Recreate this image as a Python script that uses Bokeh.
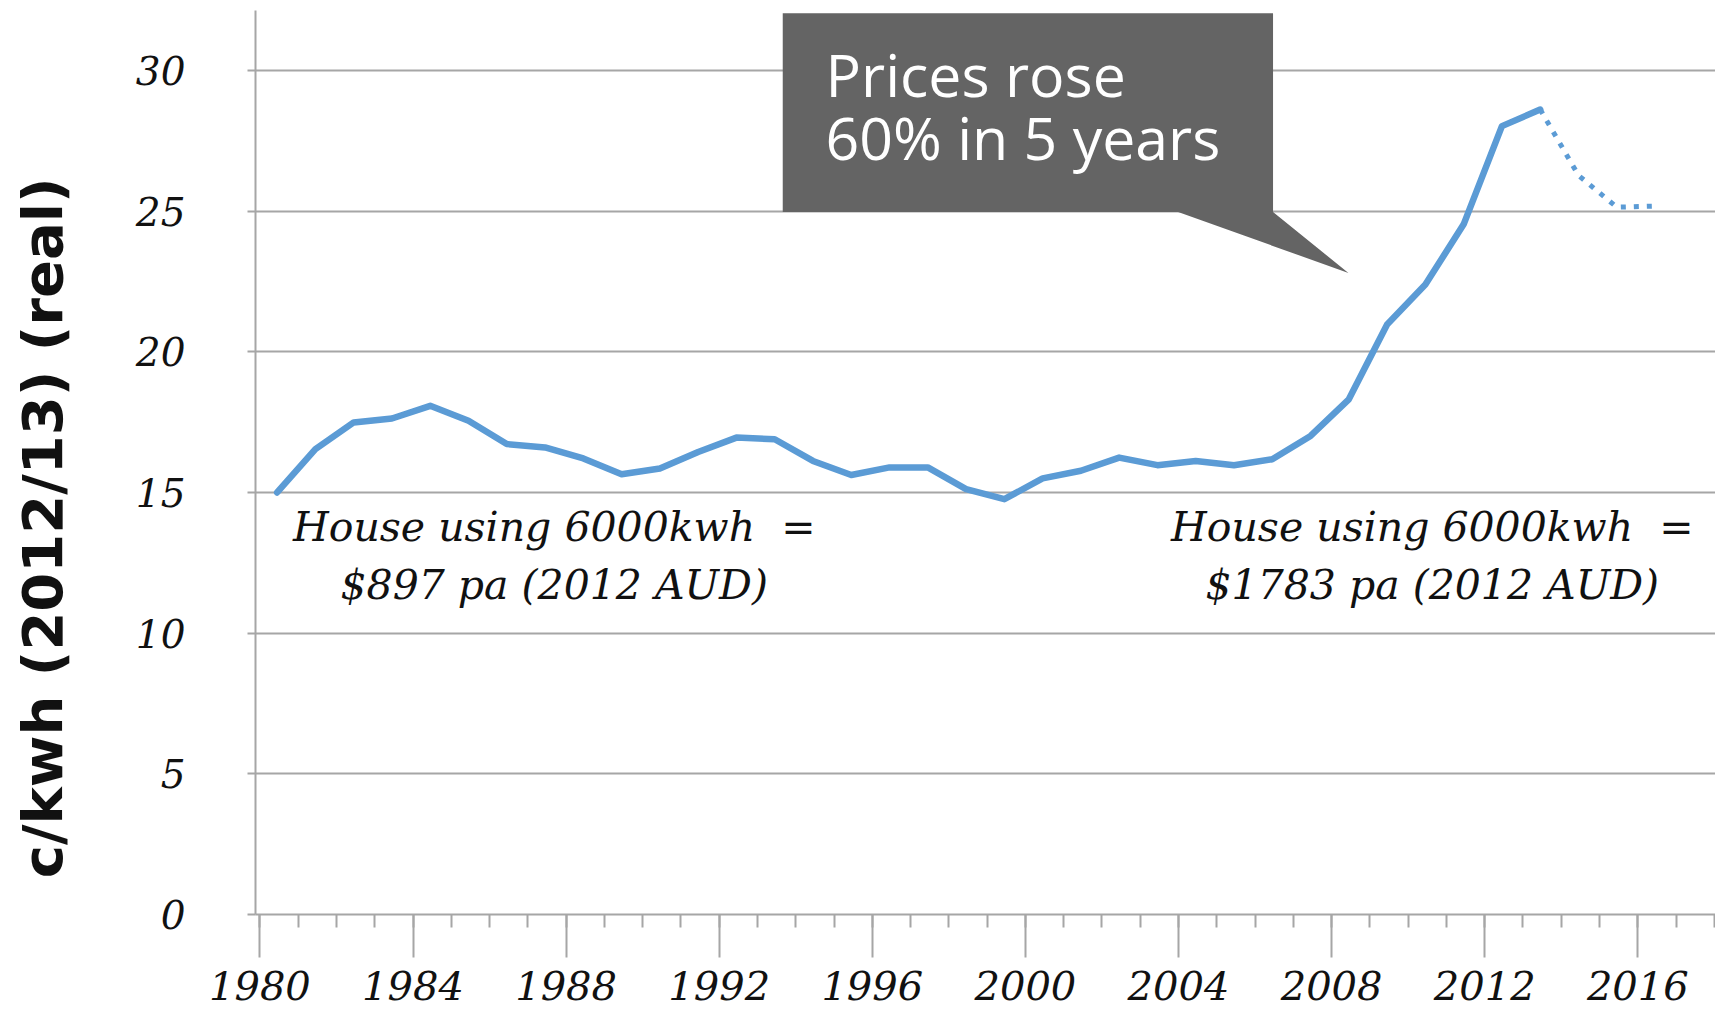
import math
from bokeh.plotting import figure
from bokeh.layouts import row
from bokeh.models import Range1d, SingleIntervalTicker, FixedTicker, Label
from bokeh.embed import file_html
from bokeh.resources import INLINE

# ---- data (financial years, start year) ----
actual_years = list(range(1980, 2014))
actual_price = [15.0, 16.54, 17.49, 17.63, 18.08, 17.55, 16.72, 16.6, 16.21, 15.65,
                15.85, 16.44, 16.95, 16.89, 16.12, 15.62, 15.89, 15.89, 15.12, 14.76,
                15.5, 15.77, 16.24, 15.97, 16.12, 15.97, 16.18, 17.01, 18.31, 20.97,
                22.39, 24.53, 28.02, 28.61]
proj_years = [2013, 2014, 2015, 2016]
proj_price = [28.61, 26.27, 25.14, 25.18]

y_ticks = [0, 5, 10, 15, 20, 25, 30]
y_label = "c/kwh (2012/13) (real)"
callout_lines = ["Prices rose", "60% in 5 years"]
left_note = ["House using 6000kwh\u00a0 =", "$897 pa (2012 AUD)"]
right_note = ["House using 6000kwh\u00a0 =", "$1783 pa (2012 AUD)"]

MID = 0.45  # points plotted mid financial year
BLUE = "#5B9BD5"
GRID = "#a6a6a6"
SERIF = "DejaVu Serif"
H = 1017
LW = 100

# ---- left strip holding the rotated axis title ----
side = figure(width=LW, height=H, output_backend="svg", toolbar_location=None,
              x_range=Range1d(0, LW), y_range=Range1d(0, H),
              x_axis_type=None, y_axis_type=None,
              min_border_left=0, min_border_right=0, min_border_top=0, min_border_bottom=0)
side.outline_line_color = None
side.grid.grid_line_color = None
side.add_layout(Label(x=42, y=H - 582, text=y_label, angle=math.pi / 2,
                      text_font="DejaVu Sans", text_font_style="bold", text_font_size="56px",
                      text_color="#111111", text_align="center", text_baseline="middle"))

# ---- main chart ----
p = figure(width=1715 - LW, height=H, output_backend="svg", toolbar_location=None,
           x_range=Range1d(1979.885, 2018.03), y_range=Range1d(0, 32.13),
           min_border_left=255 - LW, min_border_right=0, min_border_top=10,
           min_border_bottom=103)
p.outline_line_color = None
p.background_fill_color = "white"
p.border_fill_color = "white"

xa = p.xaxis[0]
xa.ticker = SingleIntervalTicker(interval=4, num_minor_ticks=4)
xa.axis_line_color = GRID
xa.axis_line_width = 2
xa.major_tick_line_color = GRID
xa.major_tick_line_width = 2
xa.minor_tick_line_color = GRID
xa.minor_tick_line_width = 2
xa.major_tick_in = 0
xa.major_tick_out = 43
xa.minor_tick_in = 0
xa.minor_tick_out = 13
xa.major_label_standoff = 13
xa.major_label_text_font = SERIF
xa.major_label_text_font_style = "italic"
xa.major_label_text_font_size = "40px"
xa.major_label_text_color = "#111111"

ya = p.yaxis[0]
ya.ticker = FixedTicker(ticks=y_ticks)
ya.axis_line_color = GRID
ya.axis_line_width = 2
ya.major_tick_line_color = GRID
ya.major_tick_line_width = 2
ya.major_tick_in = 0
ya.major_tick_out = 8
ya.minor_tick_line_color = None
ya.major_label_standoff = 62
ya.major_label_text_font = SERIF
ya.major_label_text_font_style = "italic"
ya.major_label_text_font_size = "39px"
ya.major_label_text_color = "#111111"

p.xgrid.grid_line_color = None
p.ygrid.ticker = FixedTicker(ticks=y_ticks)
p.ygrid.grid_line_color = GRID
p.ygrid.grid_line_width = 2

# series
p.line([y + MID for y in actual_years], actual_price, line_color=BLUE, line_width=6.5,
       line_join="round", line_cap="round")
p.line([y + MID for y in proj_years], proj_price, line_color=BLUE, line_width=5,
       line_dash="5 8", line_cap="butt")

# callout box with pointer
p.patch([1993.66, 2006.47, 2006.47, 2008.44, 2003.99, 1993.66],
        [32.03, 32.03, 24.97, 22.80, 24.97, 24.97],
        fill_color="#646464", line_color=None)
for yb, t in zip((29.89, 27.65), callout_lines):
    p.add_layout(Label(x=1994.78, y=yb, text=t, text_font="Open Sans",
                       text_font_size="59px", text_color="white", text_baseline="alphabetic"))

# house notes
for xc, lines in ((1987.69, left_note), (2010.63, right_note)):
    for yb, t in zip((13.78, 11.72), lines):
        p.add_layout(Label(x=xc, y=yb, text=t, text_font=SERIF, text_font_style="italic",
                           text_font_size="41px", text_color="#111111",
                           text_align="center", text_baseline="alphabetic"))

open("out.html", "w").write(file_html(row(side, p), INLINE))
